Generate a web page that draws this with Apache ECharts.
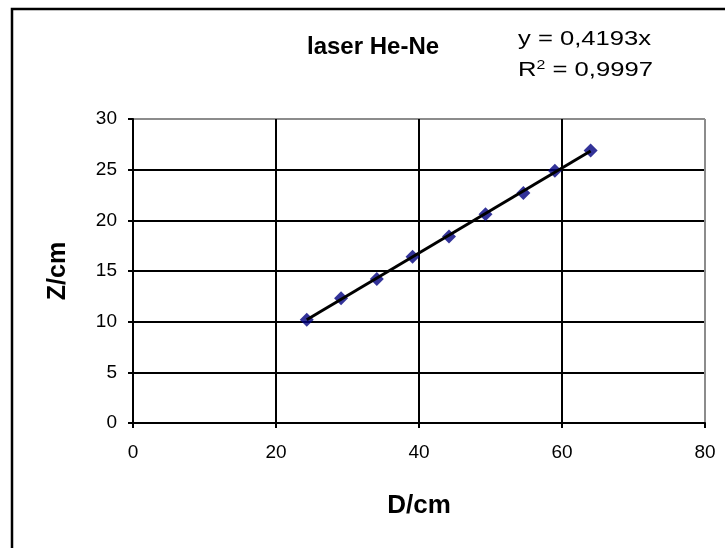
<!DOCTYPE html>
<html>
<head>
    <meta charset="utf-8">
    <title>laser He-Ne</title>
    <script src="https://cdn.jsdelivr.net/npm/echarts@6/dist/echarts.min.js"></script>
    <style>
        html, body { margin: 0; padding: 0; background: #fff; }
    </style>
</head>
<body>
    <div id="chart" style="width:725px; height:548px"></div>

<script>

// measured points (D in cm, Z in cm)
var dValues = [24.3, 29.1, 34.1, 39.1, 44.2, 49.3, 54.6, 59, 64];
var zValues = [10.2, 12.3, 14.2, 16.4, 18.4, 20.6, 22.7, 24.9, 26.9];

// trendline through origin, as printed on the chart
var slope = 0.4193;
var rSquared = '0,9997';

var xTicks = { min: 0, max: 80, interval: 20 };
var yTicks = { min: 0, max: 30, interval: 5 };

var points = [];
for (var i = 0; i < dValues.length; i++) {
    points.push([dValues[i], zValues[i]]);
}
var dFirst = dValues[0], dLast = dValues[dValues.length - 1];
var trend = [[dFirst, slope * dFirst], [dLast, slope * dLast]];

var font = '"Liberation Sans", Arial, sans-serif';
var grey = '#8c8c8c';

var myChart = echarts.init(document.getElementById('chart'), null, { renderer: 'canvas' });

var option = {
    backgroundColor: '#fff',
    animation: false,
    title: {
        text: 'laser He-Ne',
        left: 302,
        top: 30,
        textStyle: { fontFamily: font, fontSize: 24, fontWeight: 'bold', color: '#000' }
    },
    graphic: [
        {
            type: 'rect',
            shape: { x: 12, y: 9, width: 800, height: 600 },
            style: { fill: 'none', stroke: '#000', lineWidth: 2.5 },
            silent: true
        },
        {
            type: 'text',
            x: 518, y: 29,
            scaleX: 1.22,
            style: {
                text: 'y = 0,' + String(slope).split('.')[1] + 'x',
                font: '21px ' + font,
                fill: '#000'
            }
        },
        {
            type: 'text',
            x: 518, y: 59,
            scaleX: 1.22,
            style: {
                text: 'R{sup|2} = ' + rSquared,
                font: '21px ' + font,
                fill: '#000',
                rich: {
                    sup: { fontSize: 13, fontFamily: font, verticalAlign: 'top', padding: [0, 0, 10, 0] }
                }
            }
        }
    ],
    grid: { left: 133, right: 20, top: 119, bottom: 125, show: false },
    xAxis: {
        type: 'value',
        min: xTicks.min, max: xTicks.max, interval: xTicks.interval,
        name: 'D/cm',
        nameLocation: 'middle',
        nameGap: 70,
        nameTextStyle: { fontFamily: font, fontSize: 26, fontWeight: 'bold', color: '#000' },
        axisLine: { show: true, onZero: false, lineStyle: { color: '#000', width: 2 } },
        axisTick: { show: true, length: 5, lineStyle: { color: '#000', width: 2 } },
        axisLabel: { fontFamily: font, fontSize: 19, color: '#000', margin: 20 },
        splitLine: { show: true, lineStyle: { color: ['#000', '#000', '#000', '#000', grey], width: 2 } }
    },
    yAxis: {
        type: 'value',
        min: yTicks.min, max: yTicks.max, interval: yTicks.interval,
        name: 'Z/cm',
        nameLocation: 'middle',
        nameGap: 62,
        nameTextStyle: { fontFamily: font, fontSize: 25, fontWeight: 'bold', color: '#000' },
        axisLine: { show: true, onZero: false, lineStyle: { color: '#000', width: 2 } },
        axisTick: { show: true, length: 5, lineStyle: { color: '#000', width: 2 } },
        axisLabel: { fontFamily: font, fontSize: 19, color: '#000', margin: 16 },
        splitLine: { show: true, lineStyle: { color: ['#000', '#000', '#000', '#000', '#000', '#000', grey], width: 2 } }
    },
    series: [
        {
            type: 'scatter',
            data: points,
            symbol: 'diamond',
            symbolSize: 14,
            itemStyle: { color: '#000080' },
            z: 2
        },
        {
            type: 'line',
            data: trend,
            symbol: 'none',
            lineStyle: { color: '#000', width: 3 },
            z: 3
        }
    ]
};

myChart.setOption(option);

</script>
</body>
</html>
